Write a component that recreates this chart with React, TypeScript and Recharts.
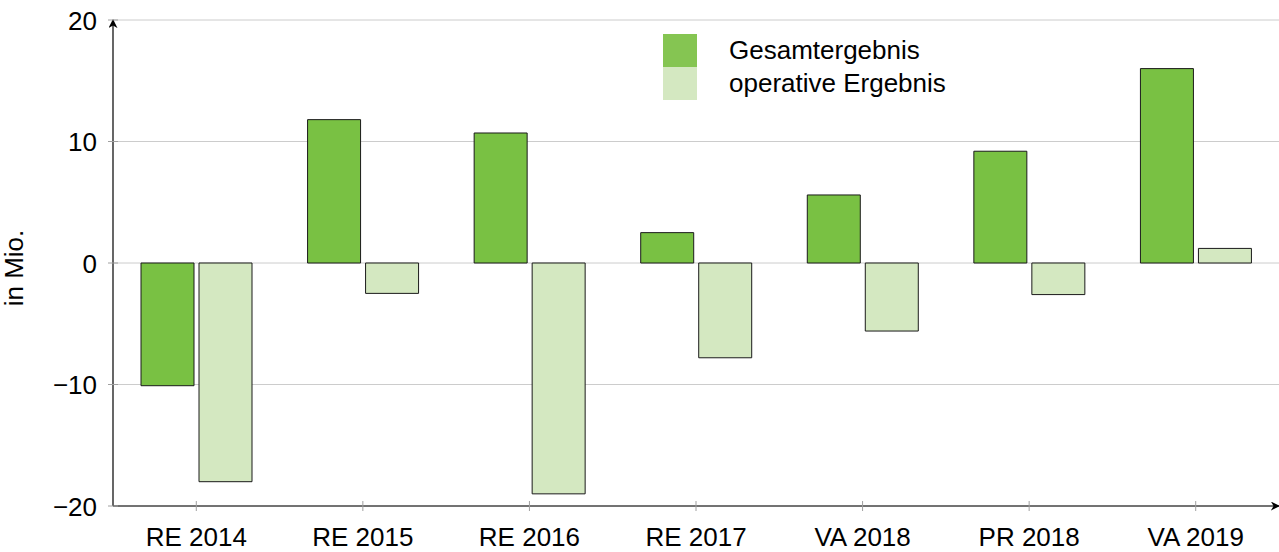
import React from 'react'
import { BarChart, Bar, XAxis, YAxis, CartesianGrid, Legend } from 'recharts'

const categories = ['RE 2014', 'RE 2015', 'RE 2016', 'RE 2017', 'VA 2018', 'PR 2018', 'VA 2019']
const gesamtergebnis = [-10.1, 11.8, 10.7, 2.5, 5.6, 9.2, 16.0]
const operativesErgebnis = [-18.0, -2.5, -19.0, -7.8, -5.6, -2.6, 1.2]
const yTicks = [-20, -10, 0, 10, 20]

const series = [
  { key: 'gesamt', name: 'Gesamtergebnis', fill: '#79c143', legend: '#85c552' },
  { key: 'operativ', name: 'operative Ergebnis', fill: '#d4e8c1', legend: '#d4e8c1' },
]

const data = categories.map((c, i) => ({
  name: c,
  gesamt: gesamtergebnis[i],
  operativ: operativesErgebnis[i],
}))

const FONT = '"Liberation Sans", Arial, Helvetica, sans-serif'
const FS = 26

const fmt = (v: number) => (v < 0 ? '\u2212' + Math.abs(v) : String(v))

const XTick = (props: any) => {
  const { x, y, payload } = props
  return (
    <g>
      <line x1={x} x2={x} y1={y - 5} y2={y + 5} stroke="#a0a0a0" strokeWidth={1} />
      <text x={x} y={y + 40} textAnchor="middle" fontSize={FS} fontFamily={FONT} fill="#000">
        {payload.value}
      </text>
    </g>
  )
}

const YTick = (props: any) => {
  const { x, y, payload } = props
  return (
    <g>
      <line x1={x - 5} x2={x + 5} y1={y} y2={y} stroke="#a0a0a0" strokeWidth={1} />
      <text x={x - 16} y={y + 9.5} textAnchor="end" fontSize={FS} fontFamily={FONT} fill="#000">
        {fmt(payload.value)}
      </text>
    </g>
  )
}

const LegendBox = () => (
  <div style={{ fontFamily: FONT, fontSize: FS, color: '#000' }}>
    {series.map((s) => (
      <div key={s.key} style={{ display: 'flex', alignItems: 'center', height: 33 }}>
        <div style={{ width: 34, height: 33, background: s.legend }} />
        <span style={{ marginLeft: 32, lineHeight: '33px' }}>{s.name}</span>
      </div>
    ))}
  </div>
)

export default function App() {
  return (
    <div style={{ position: 'absolute', left: 0, top: 0, width: 1279, height: 552, background: '#fff' }}>
      <BarChart
        width={1279}
        height={552}
        data={data}
        margin={{ top: 20, right: 0, bottom: 0, left: 0 }}
        barSize={53}
        barGap={5}
      >
        <defs>
          <marker
            id="arrow"
            viewBox="0 0 10 10"
            refX="9"
            refY="5"
            markerWidth="9"
            markerHeight="9"
            markerUnits="userSpaceOnUse"
            orient="auto-start-reverse"
          >
            <path d="M0,0 L10,5 L0,10 L3,5 Z" fill="#000" />
          </marker>
        </defs>
        <CartesianGrid horizontal vertical={false} stroke="#cccccc" />
        <XAxis
          dataKey="name"
          height={46}
          tickLine={false}
          tickSize={0}
          tickMargin={0}
          tick={<XTick />}
          interval={0}
          axisLine={{ stroke: '#000', strokeWidth: 1.2, markerEnd: 'url(#arrow)' } as any}
        />
        <YAxis
          width={113}
          domain={[-20, 20]}
          ticks={yTicks}
          allowDataOverflow
          tickLine={false}
          tickSize={0}
          tickMargin={0}
          tick={<YTick />}
          axisLine={{ stroke: '#000', strokeWidth: 1.2, markerStart: 'url(#arrow)' } as any}
          label={{
            value: 'in Mio.',
            angle: -90,
            position: 'insideLeft',
            dx: 9,
            dy: 5,
            style: { fontFamily: FONT, fontSize: FS, fill: '#000', textAnchor: 'middle' },
          }}
        />
        <Legend
          layout="horizontal"
          verticalAlign="middle"
          align="center"
          content={<LegendBox />}
          wrapperStyle={{ top: 34, left: 663, width: 330, height: 66 }}
        />
        {series.map((s) => (
          <Bar
            key={s.key}
            dataKey={s.key}
            name={s.name}
            fill={s.fill}
            stroke="#1a1a1a"
            strokeWidth={1}
            isAnimationActive={false}
          />
        ))}
      </BarChart>
    </div>
  )
}
